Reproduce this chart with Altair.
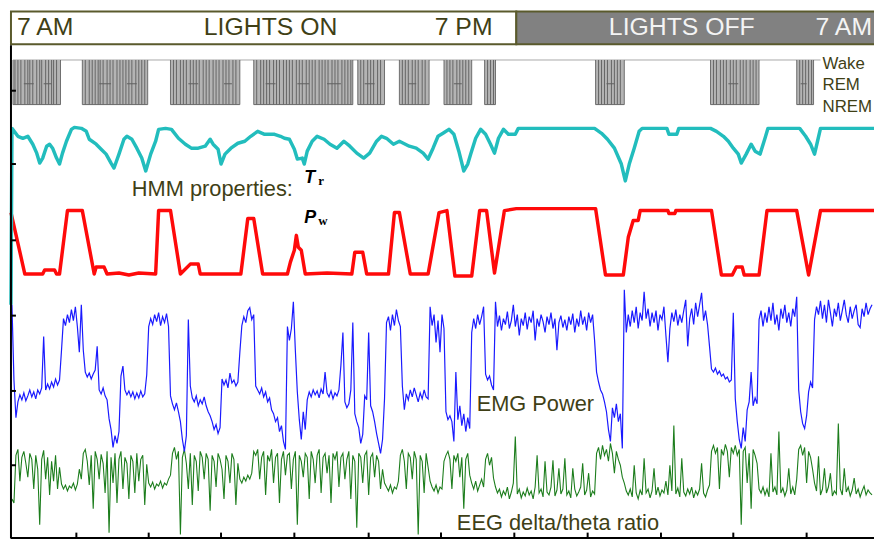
import altair as alt
import pandas as pd

# ---------------- data ----------------
# x: time position (a.u., 11..882), y: stacked-trace value (a.u., 0..533)
header_on = [11, 521]
header_off = [521, 884]
header_band = [499, 532]

# hypnogram sleep bouts (start, end) and level values
sleep_bouts = [(13, 61), (83, 149), (172, 242), (256, 356), (361, 388), (403, 433),
               (448, 476), (489, 500), (601, 630), (717, 766), (804, 821)]
hyp_wake, hyp_rem, hyp_nrem = 483, 459, 438
hyp_stripes = [13, 15, 18, 21, 25, 28, 30, 33, 37, 40, 42, 46, 49, 52, 54, 57, 61,
               83, 86, 90, 93, 96, 99, 101, 104, 108, 111, 114, 118, 121, 124, 127, 130, 133, 137, 140, 143, 146, 149,
               172, 175, 178, 182, 185, 188, 192, 195, 198, 201, 205, 208, 211, 215, 218, 221, 225, 228, 231, 235, 238, 242,
               256, 259, 263, 266, 269, 272, 276, 279, 282, 286, 289, 292, 295, 299, 302, 305, 309, 312, 315, 318, 322,
               325, 328, 331, 335, 338, 341, 345, 348, 351, 354, 356,
               361, 364, 367, 371, 374, 377, 381, 384, 388,
               403, 406, 409, 412, 416, 419, 422, 426, 429, 433,
               448, 451, 454, 457, 461, 464, 467, 470, 473, 476,
               489, 492, 495, 498, 500,
               601, 604, 607, 610, 613, 617, 620, 623, 626, 630,
               717, 720, 723, 727, 730, 733, 737, 740, 743, 747, 750, 753, 757, 760, 763, 766,
               804, 807, 810, 813, 816, 819, 821]
# REM episodes inside bouts (start, end): line drops only to REM level
hyp_rem_marks = [(24, 34), (44, 52), (100, 112), (128, 138), (190, 200), (226, 234), (268, 278),
                 (300, 312), (330, 344), (368, 378), (412, 420), (458, 466), (612, 620), (735, 745), (808, 814)]

tr_x = [11, 12, 18, 23, 28, 33, 37, 40, 43, 47, 50, 53, 57, 60, 63, 67, 72, 75, 82, 87, 90, 97, 102, 107, 112, 115,
        120, 125, 128, 133, 138, 143, 147, 152, 157, 160, 167, 173, 180, 187, 193, 200, 207, 212, 215, 220, 223,
        227, 233, 240, 247, 253, 260, 267, 277, 283, 287, 292, 297, 300, 305, 307, 310, 315, 320, 327, 333, 340,
        347, 353, 360, 367, 373, 380, 385, 390, 397, 403, 413, 420, 427, 432, 437, 442, 447, 453, 458, 463, 468,
        472, 475, 480, 485, 490, 495, 499, 503, 508, 513, 520, 523, 600, 607, 613, 620, 627, 631, 635, 640, 645,
        648, 673, 675, 683, 685, 717, 723, 730, 735, 740, 745, 748, 753, 758, 762, 767, 772, 775, 807, 813, 818,
        822, 825, 828, 882]
tr_y = [236, 414, 406, 404, 406, 398, 389, 379, 384, 396, 398, 394, 384, 378, 389, 401, 413, 415, 414, 411, 403,
        398, 393, 388, 379, 374, 388, 403, 406, 403, 394, 384, 371, 388, 401, 413, 414, 413, 404, 398, 394, 394,
        396, 403, 398, 393, 378, 388, 394, 399, 401, 406, 411, 408, 408, 406, 404, 403, 393, 383, 384, 378, 391,
        401, 406, 403, 398, 394, 401, 396, 389, 384, 389, 401, 406, 404, 398, 401, 396, 394, 389, 383, 394, 406,
        409, 413, 408, 391, 371, 378, 388, 404, 413, 408, 398, 389, 404, 413, 408, 408, 414, 414, 409, 403, 394,
        378, 361, 378, 394, 411, 414, 414, 408, 408, 414, 414, 411, 406, 401, 394, 388, 379, 388, 398, 391, 388,
        404, 414, 414, 406, 398, 388, 401, 414, 414]

pw_x = [11, 25, 43, 45, 55, 57, 60, 68, 83, 95, 97, 105, 108, 120, 130, 140, 157, 160, 172, 182, 192, 200, 202,
        243, 250, 256, 265, 290, 293, 297, 299, 301, 304, 308, 330, 355, 358, 366, 370, 392, 398, 403, 414, 432,
        443, 451, 459, 476, 484, 491, 499, 509, 521, 601, 611, 629, 634, 639, 644, 646, 674, 675, 681, 682, 718,
        728, 739, 743, 749, 751, 766, 774, 804, 816, 828, 882]
pw_y = [329, 267, 267, 271, 271, 267, 267, 331, 331, 267, 274, 274, 267, 268, 266, 268, 267, 331, 331, 267, 277,
        277, 267, 267, 323, 323, 267, 267, 279, 291, 306, 294, 291, 267, 268, 267, 289, 289, 267, 267, 329, 329,
        267, 267, 329, 331, 265, 265, 331, 331, 268, 331, 333, 333, 266, 266, 304, 321, 321, 331, 331, 328, 328,
        331, 331, 266, 266, 274, 274, 266, 266, 331, 331, 266, 331, 331]

# EMG power, one row per 40 time units, sampled every 2 units from the row start
emg_rows = {
    12: [236, 160, 122, 138, 145, 140, 147, 139, 144, 150, 143, 148, 141, 150, 146, 152, 204, 150, 156, 151],
    52: [158, 153, 161, 155, 160, 190, 222, 215, 226, 218, 231, 220, 234, 214, 188, 236, 190, 168, 163, 167],
    92: [161, 166, 170, 194, 150, 146, 152, 144, 140, 121, 110, 92, 104, 96, 108, 164, 174, 150, 145, 149],
    132: [143, 148, 141, 147, 142, 149, 143, 146, 165, 214, 222, 216, 226, 219, 228, 215, 224, 218, 227, 214],
    172: [144, 136, 130, 137, 128, 118, 100, 88, 104, 221, 154, 142, 138, 144, 134, 140, 136, 143, 134, 128],
    212: [124, 118, 110, 115, 106, 112, 161, 155, 160, 152, 167, 157, 160, 154, 158, 188, 215, 224, 218, 230],
    252: [233, 221, 226, 154, 150, 146, 152, 143, 148, 138, 142, 130, 126, 118, 122, 108, 114, 98, 90, 214],
    292: [200, 212, 239, 190, 148, 120, 100, 128, 110, 140, 148, 143, 150, 145, 149, 142, 151, 146, 168, 147],
    332: [143, 149, 141, 147, 144, 150, 175, 208, 138, 132, 136, 150, 218, 126, 118, 112, 96, 105, 144, 140],
    372: [208, 134, 128, 118, 106, 96, 86, 100, 141, 218, 224, 210, 226, 215, 231, 220, 214, 154, 130, 146],
    412: [140, 150, 143, 152, 145, 138, 147, 141, 150, 143, 141, 234, 215, 226, 198, 220, 188, 226, 212, 128],
    452: [120, 124, 118, 98, 168, 120, 134, 114, 126, 108, 122, 111, 208, 222, 212, 226, 216, 224, 234, 166],
    492: [160, 164, 155, 150, 239, 214, 225, 210, 222, 216, 229, 212, 220, 236, 214, 226, 205, 222, 215, 228],
    532: [211, 224, 218, 230, 200, 222, 214, 226, 219, 208, 224, 216, 228, 212, 222, 190, 218, 225, 213, 221],
    572: [210, 224, 216, 227, 208, 222, 214, 230, 216, 224, 210, 228, 218, 226, 200, 168, 158, 150, 146, 138],
    612: [128, 110, 98, 132, 122, 136, 118, 126, 91, 251, 208, 226, 214, 230, 218, 234, 212, 228, 220, 249],
    652: [222, 232, 214, 228, 218, 230, 210, 226, 221, 234, 205, 178, 212, 228, 219, 231, 215, 226, 218, 230],
    692: [241, 194, 222, 232, 216, 238, 224, 236, 248, 220, 230, 216, 194, 171, 168, 172, 166, 169, 164, 166],
    732: [161, 163, 158, 160, 228, 141, 118, 100, 91, 112, 98, 130, 138, 168, 134, 142, 136, 221, 230, 214],
    772: [228, 218, 234, 220, 238, 216, 226, 210, 232, 222, 236, 218, 228, 214, 232, 224, 244, 150, 128, 116],
    812: [111, 124, 148, 158, 152, 221, 234, 226, 240, 222, 236, 218, 241, 228, 214, 232, 224, 238, 220, 230],
    852: [241, 226, 218, 234, 222, 230, 236, 216, 213, 232, 224, 238, 226, 232, 236],
}

# EEG delta/theta ratio, same sampling
eeg_rows = {
    12: [40, 36, 84, 90, 58, 82, 88, 76, 62, 86, 80, 50, 84, 70, 14, 80, 89, 60, 82, 44],
    52: [78, 58, 84, 50, 72, 55, 50, 54, 48, 53, 51, 56, 49, 55, 70, 60, 86, 90, 78, 54],
    92: [84, 30, 88, 80, 60, 85, 76, 46, 88, 6, 82, 56, 86, 36, 80, 88, 50, 82, 76, 40],
    132: [84, 78, 46, 86, 58, 80, 84, 34, 75, 56, 52, 57, 50, 55, 53, 58, 51, 56, 54, 60],
    172: [64, 86, 92, 80, 88, 4, 82, 90, 76, 50, 86, 34, 84, 78, 48, 88, 82, 60, 86, 80],
    212: [28, 84, 78, 52, 86, 80, 70, 40, 84, 78, 56, 86, 80, 34, 76, 60, 56, 62, 58, 64],
    252: [60, 66, 88, 84, 90, 60, 82, 88, 44, 84, 78, 90, 56, 82, 86, 36, 80, 88, 64, 84],
    292: [86, 50, 80, 88, 14, 84, 78, 62, 86, 82, 40, 88, 80, 56, 84, 90, 46, 82, 86, 66],
    332: [84, 36, 86, 80, 88, 52, 82, 86, 60, 80, 88, 40, 84, 78, 11, 86, 82, 56, 84, 88],
    372: [44, 82, 86, 62, 84, 78, 50, 70, 56, 52, 48, 54, 46, 52, 50, 58, 84, 90, 78, 50],
    412: [86, 82, 60, 88, 80, 4, 84, 78, 46, 86, 72, 58, 52, 48, 54, 46, 52, 50, 78, 84],
    452: [88, 80, 50, 84, 78, 86, 62, 82, 30, 80, 86, 64, 56, 50, 58, 48, 54, 60, 52, 80],
    492: [86, 74, 82, 61, 52, 46, 50, 42, 48, 44, 52, 40, 47, 56, 103, 45, 50, 41, 47, 43],
    532: [51, 44, 48, 40, 52, 84, 46, 50, 42, 78, 47, 44, 52, 79, 43, 49, 71, 45, 50, 81],
    572: [44, 48, 41, 71, 50, 43, 47, 52, 76, 44, 49, 66, 42, 48, 45, 86, 92, 80, 94, 84],
    612: [90, 78, 96, 86, 66, 88, 80, 74, 62, 56, 48, 44, 50, 42, 74, 46, 40, 49, 44, 81],
    652: [46, 50, 41, 48, 71, 44, 52, 43, 49, 46, 58, 44, 74, 48, 114, 45, 51, 42, 81, 47],
    692: [43, 50, 45, 52, 41, 48, 44, 50, 76, 46, 42, 49, 54, 88, 94, 86, 92, 50, 90, 84],
    732: [95, 88, 62, 92, 86, 94, 84, 90, 14, 88, 92, 56, 86, 30, 90, 84, 76, 50, 46, 52],
    772: [44, 50, 42, 86, 47, 52, 44, 108, 46, 51, 43, 49, 71, 45, 52, 44, 60, 90, 94, 84],
    812: [92, 56, 88, 82, 70, 56, 48, 83, 44, 50, 71, 46, 52, 66, 43, 48, 45, 116, 50, 44],
    852: [71, 47, 52, 43, 49, 61, 45, 50, 42, 48, 53, 44, 49, 46, 44],
}

left_ticks = [74, 149, 225, 301, 378, 452]
bottom_ticks = [77, 150, 223, 297, 372, 445, 519, 593, 667, 740, 814]


def rows_to_xy(rows):
    xs, ys = [], []
    for start, vals in rows.items():
        for j, v in enumerate(vals):
            xs.append(start + 2 * j)
            ys.append(v)
    return xs, ys


# ---------------- chart ----------------
XS = alt.Scale(domain=[11, 882], nice=False, zero=False)
YS = alt.Scale(domain=[0, 533], nice=False, zero=False)
OLIVE = "#3f3f16"


def X(f="x"):
    return alt.X(f"{f}:Q", scale=XS, axis=None)


def Y(f="y"):
    return alt.Y(f"{f}:Q", scale=YS, axis=None)


def rect_layer(df, **kw):
    return alt.Chart(df).mark_rect(**kw).encode(x=X("x"), x2="x2:Q", y=Y("y"), y2="y2:Q")


def text_layer(df, **kw):
    kw.setdefault("baseline", "alphabetic")
    return alt.Chart(df).mark_text(**kw).encode(x=X("x"), y=Y("y"), text="t:N")


def line_layer(xs, ys, **kw):
    df = pd.DataFrame({"x": xs, "y": ys, "i": range(len(xs))})
    return alt.Chart(df).mark_line(**kw).encode(x=X("x"), y=Y("y"), order="i:Q")


layers = []

# header
layers.append(rect_layer(pd.DataFrame({"x": [header_on[0]], "x2": [header_on[1]],
                                       "y": [header_band[0]], "y2": [header_band[1]]}),
                         fill="white", stroke="#5a5a2c", strokeWidth=2))
layers.append(rect_layer(pd.DataFrame({"x": [header_off[0]], "x2": [header_off[1]],
                                       "y": [header_band[0]], "y2": [header_band[1]]}),
                         fill="#818181", stroke="#5a5a2c", strokeWidth=2))
layers.append(text_layer(pd.DataFrame({"x": [17], "y": [508], "t": ["7 AM"]}),
                         align="left", font="Liberation Sans", fontSize=25, color=OLIVE))
layers.append(text_layer(pd.DataFrame({"x": [273], "y": [508], "t": ["LIGHTS ON"]}),
                         align="center", font="Liberation Sans", fontSize=25, color=OLIVE))
layers.append(text_layer(pd.DataFrame({"x": [497], "y": [508], "t": ["7 PM"]}),
                         align="right", font="Liberation Sans", fontSize=25, color=OLIVE))
layers.append(text_layer(pd.DataFrame({"x": [688], "y": [508], "t": ["LIGHTS OFF"]}),
                         align="center", font="Liberation Sans", fontSize=25, color="#f4f4f4"))
layers.append(text_layer(pd.DataFrame({"x": [880], "y": [508], "t": ["7 AM"]}),
                         align="right", font="Liberation Sans", fontSize=25, color="#f4f4f4"))

# hypnogram
layers.append(alt.Chart(pd.DataFrame({"x": [13], "x2": [828], "y": [hyp_wake]})).mark_rule(
    color="#a8a8a8", strokeWidth=1).encode(x=X("x"), x2="x2:Q", y=Y("y")))
bouts = pd.DataFrame({"x": [b[0] for b in sleep_bouts], "x2": [b[1] for b in sleep_bouts],
                      "y": [hyp_nrem] * len(sleep_bouts), "y2": [hyp_wake] * len(sleep_bouts)})
layers.append(rect_layer(bouts, fill="#b4b4b4"))
stripes = pd.DataFrame({"x": hyp_stripes, "y": [hyp_nrem] * len(hyp_stripes),
                        "y2": [hyp_wake] * len(hyp_stripes)})
layers.append(alt.Chart(stripes).mark_rule(color="#4a4a4a", strokeWidth=1, opacity=0.75).encode(
    x=X("x"), y=Y("y"), y2="y2:Q"))
rem = pd.DataFrame({"x": [r[0] for r in hyp_rem_marks], "x2": [r[1] for r in hyp_rem_marks],
                    "y": [hyp_rem] * len(hyp_rem_marks)})
layers.append(alt.Chart(rem).mark_rule(color="#606060", strokeWidth=1).encode(
    x=X("x"), x2="x2:Q", y=Y("y")))
layers.append(alt.Chart(pd.DataFrame({"x": [b[0] for b in sleep_bouts], "x2": [b[1] for b in sleep_bouts],
                                      "y": [hyp_nrem] * len(sleep_bouts)})).mark_rule(
    color="#666666", strokeWidth=1).encode(x=X("x"), x2="x2:Q", y=Y("y")))
for name, yy in [("Wake", 474), ("REM", 453), ("NREM", 431)]:
    layers.append(text_layer(pd.DataFrame({"x": [830], "y": [yy], "t": [name]}),
                             align="left", font="Liberation Sans", fontSize=17, color=OLIVE))

# traces
ex, ey = rows_to_xy(eeg_rows)
mx, my = rows_to_xy(emg_rows)
layers.append(line_layer(ex, ey, color="#1c7d1c", strokeWidth=1.1))
layers.append(line_layer(mx, my, color="#1a1aff", strokeWidth=1.2))
layers.append(line_layer(pw_x, pw_y, color="#ff0a0a", strokeWidth=3.5, strokeJoin="round"))
layers.append(line_layer(tr_x, tr_y, color="#22bdbd", strokeWidth=3.5, strokeJoin="round"))

# labels
layers.append(text_layer(pd.DataFrame({"x": [133], "y": [346], "t": ["HMM properties:"]}),
                         align="left", font="Liberation Sans", fontSize=22, color=OLIVE))
layers.append(text_layer(pd.DataFrame({"x": [481], "y": [129], "t": ["EMG Power"]}),
                         align="left", font="Liberation Sans", fontSize=22, color=OLIVE))
layers.append(text_layer(pd.DataFrame({"x": [461], "y": [9], "t": ["EEG delta/theta ratio"]}),
                         align="left", font="Liberation Sans", fontSize=22, color=OLIVE))
layers.append(text_layer(pd.DataFrame({"x": [307, 307], "y": [359, 318], "t": ["T", "P"]}),
                         align="left", font="Liberation Sans", fontSize=18, fontStyle="italic",
                         fontWeight="bold", color="black"))
layers.append(text_layer(pd.DataFrame({"x": [321, 321], "y": [357, 316], "t": ["r", "w"]}),
                         align="left", font="Liberation Serif", fontSize=13, fontWeight="bold",
                         color="black"))

# axes (drawn as rules)
layers.append(alt.Chart(pd.DataFrame({"x": [11], "y": [0], "y2": [498]})).mark_rule(
    color="black", strokeWidth=2).encode(x=X("x"), y=Y("y"), y2="y2:Q"))
layers.append(alt.Chart(pd.DataFrame({"x": [11], "x2": [882], "y": [0.5]})).mark_rule(
    color="black", strokeWidth=2).encode(x=X("x"), x2="x2:Q", y=Y("y")))
layers.append(alt.Chart(pd.DataFrame({"x": [11] * len(left_ticks), "x2": [16] * len(left_ticks),
                                      "y": left_ticks})).mark_rule(
    color="black", strokeWidth=2).encode(x=X("x"), x2="x2:Q", y=Y("y")))
layers.append(alt.Chart(pd.DataFrame({"x": bottom_ticks, "y": [0] * len(bottom_ticks),
                                      "y2": [6] * len(bottom_ticks)})).mark_rule(
    color="black", strokeWidth=2).encode(x=X("x"), y=Y("y"), y2="y2:Q"))

chart = alt.layer(*layers).properties(
    width=871, height=533,
    padding={"left": 3, "top": 0, "right": 0, "bottom": 2},
    autosize=alt.AutoSizeParams(type="none"),
).configure_view(stroke=None)

chart.save("out.html", embed_options={"renderer": "svg", "actions": False})
